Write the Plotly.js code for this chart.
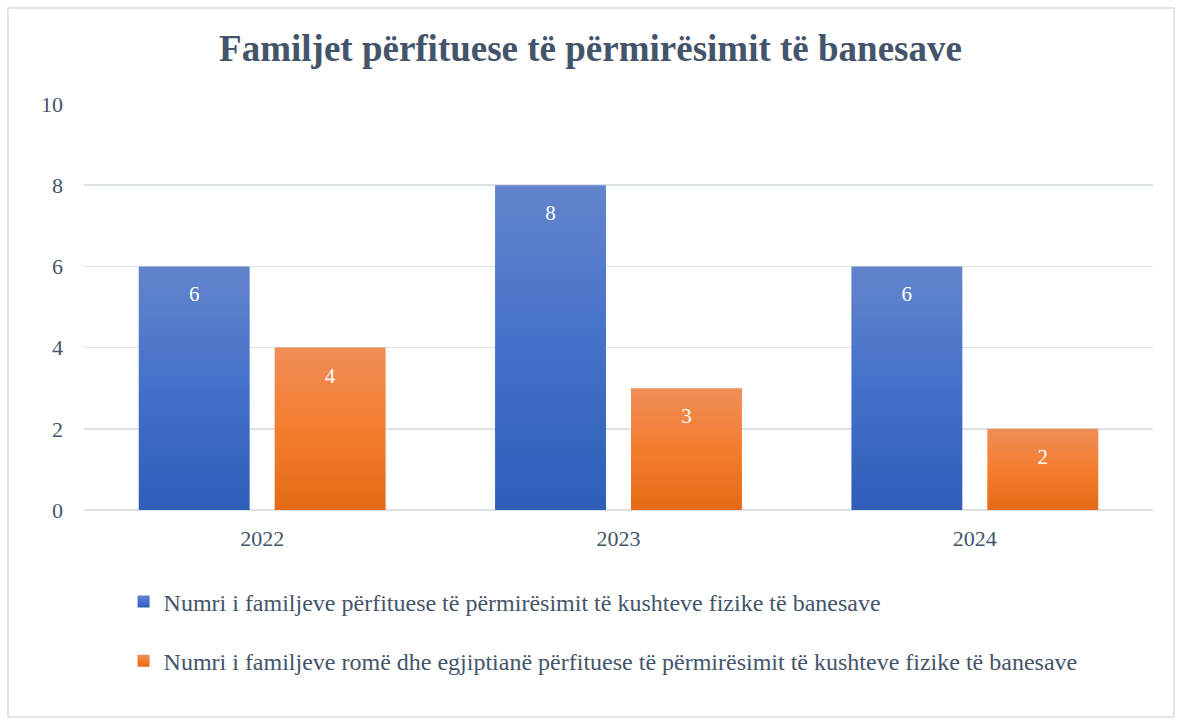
<!DOCTYPE html>
<html>
<head>
<meta charset="utf-8">
<script src="https://cdn.plot.ly/plotly-3.0.1.min.js"></script>
<style>
html,body{margin:0;padding:0;background:#fff;}
#chart{width:1181px;height:725px;}
</style>
</head>
<body>
<div id="chart"></div>
<script>
const years = ["2022", "2023", "2024"];
const seriesAll = [6, 8, 6];
const seriesRomEg = [4, 3, 2];
const seriesNames = [
  "Numri i familjeve përfituese të përmirësimit të kushteve fizike të banesave",
  "Numri i familjeve romë dhe egjiptianë përfituese të përmirësimit të kushteve fizike të banesave"
];
const titleText = "Familjet përfituese të përmirësimit të banesave";
const yTicks = [0, 2, 4, 6, 8, 10];

const serif = "Liberation Serif, Times New Roman, serif";
const textCol = "#44546A";

const traces = [
  {
    type: "bar", x: years, y: seriesAll, name: seriesNames[0],
    marker: {color: "#4472C4"}, legendgroup: "a",
    text: seriesAll.map(String), textposition: "inside", insidetextanchor: "end",
    textfont: {family: serif, size: 21, color: "#ffffff"}, cliponaxis: false,
    hoverinfo: "none"
  },
  {
    type: "bar", x: years, y: seriesRomEg, name: seriesNames[1],
    marker: {color: "#ED7D31"}, legendgroup: "b",
    text: seriesRomEg.map(String), textposition: "inside", insidetextanchor: "end",
    textfont: {family: serif, size: 21, color: "#ffffff"}, cliponaxis: false,
    hoverinfo: "none"
  }
];

const layout = {
  width: 1181, height: 725,
  margin: {l: 84, r: 28, t: 104, b: 215},
  paper_bgcolor: "#ffffff", plot_bgcolor: "#ffffff",
  font: {family: serif, color: textCol},
  title: {
    text: "<b>" + titleText + "</b>",
    font: {family: serif, size: 37, color: textCol},
    x: 0.5, xanchor: "center", xref: "container",
    y: 1 - 48/725, yanchor: "middle", yref: "container"
  },
  barmode: "group",
  bargap: 0.237,
  bargroupgap: 0.184,
  xaxis: {
    type: "category",
    tickfont: {family: serif, size: 22, color: textCol},
    showgrid: false, zeroline: false, showline: false,
    ticks: "", ticklen: 0, ticklabelstandoff: 13
  },
  yaxis: {
    range: [0, 10],
    tickvals: yTicks,
    ticktext: yTicks.map(String),
    tickfont: {family: serif, size: 22, color: textCol},
    showgrid: true, gridcolor: "#DDE2E8", gridwidth: 1.5,
    zeroline: true, zerolinecolor: "#DDE2E8", zerolinewidth: 1.5,
    showline: false, ticks: "", ticklen: 0, ticklabelstandoff: 20
  },
  showlegend: true,
  legend: {
    orientation: "v",
    x: 0.037, xanchor: "left",
    y: -0.171, yanchor: "top",
    traceorder: "grouped",
    tracegroupgap: 25,
    font: {family: serif, size: 24, color: textCol},
    itemwidth: 30,
    bgcolor: "rgba(0,0,0,0)"
  },
  shapes: [{
    type: "rect", xref: "paper", yref: "paper",
    x0: (8 - 84) / 1069, x1: (1174 - 84) / 1069,
    y0: (510 - 717) / 406, y1: (510 - 8) / 406,
    line: {color: "#D9DDE3", width: 1.5}, fillcolor: "rgba(0,0,0,0)",
    layer: "below"
  }]
};

function applyStyling(gd) {
  const svg = gd.querySelector("svg.main-svg");
  if (!svg) return;
  let defs = svg.querySelector("defs#customgrads");
  if (!defs) {
    defs = document.createElementNS("http://www.w3.org/2000/svg", "defs");
    defs.setAttribute("id", "customgrads");
    defs.innerHTML =
      '<linearGradient id="gBlue" x1="0" y1="0" x2="0" y2="1">' +
      '<stop offset="0" stop-color="#6384CC"/><stop offset="0.5" stop-color="#4371CA"/><stop offset="1" stop-color="#2E5EB8"/></linearGradient>' +
      '<linearGradient id="gOrange" x1="0" y1="0" x2="0" y2="1">' +
      '<stop offset="0" stop-color="#F08D58"/><stop offset="0.5" stop-color="#F47D2D"/><stop offset="1" stop-color="#E56A17"/></linearGradient>';
    svg.insertBefore(defs, svg.firstChild);
  }
  const ids = ["gBlue", "gOrange"];
  gd.querySelectorAll(".barlayer .trace.bars").forEach((tr, i) => {
    tr.querySelectorAll("path").forEach(p => { p.style.fill = "url(#" + ids[i] + ")"; });
    tr.querySelectorAll("text.bartext").forEach(t => {
      if (!t.dataset.shifted) {
        t.dataset.shifted = "1";
        const y = parseFloat(t.getAttribute("y") || "0");
        t.setAttribute("y", y + 13);
      }
    });
  });
  gd.querySelectorAll(".legend .traces").forEach((tr, i) => {
    tr.querySelectorAll(".legendpoints path").forEach(p => { p.style.fill = "url(#" + ids[i] + ")"; });
  });
}

const gd = document.getElementById("chart");
Plotly.newPlot(gd, traces, layout, {displayModeBar: false, staticPlot: true}).then(() => {
  applyStyling(gd);
  gd.on("plotly_afterplot", () => applyStyling(gd));
});
</script>
</body>
</html>
